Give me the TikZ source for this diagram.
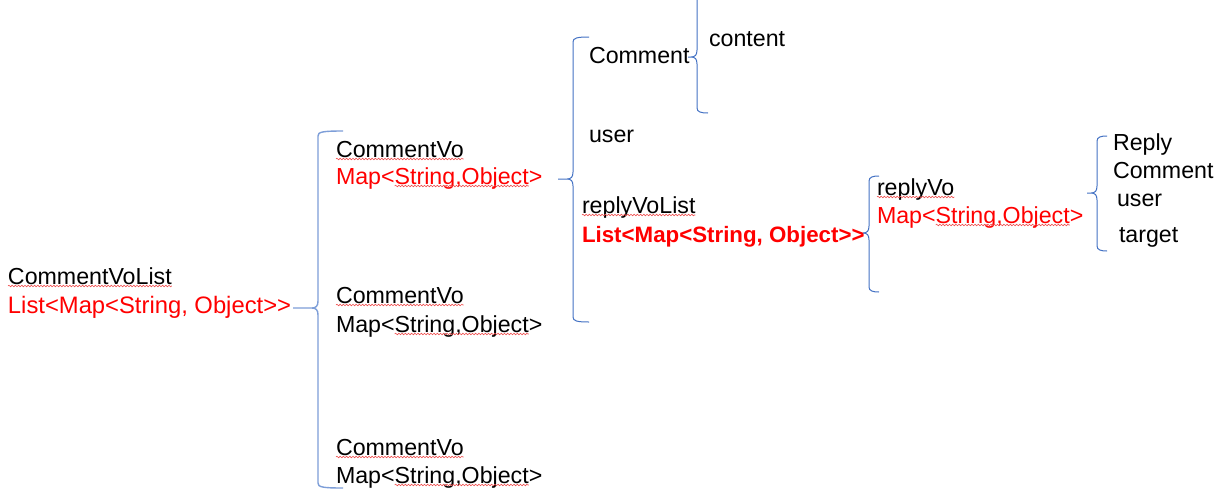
\documentclass[tikz,border=0pt]{standalone}
\usepackage{fontspec}
\setmainfont{Liberation Sans}
\usetikzlibrary{decorations.pathmorphing}
\definecolor{bracecol}{RGB}{68,114,196}
\definecolor{bracecolA}{RGB}{125,158,216}
\definecolor{txtred}{RGB}{255,0,0}
\definecolor{wavered}{RGB}{240,80,80}
\newcommand\drawbrace[7]{% style, x, top, tip, bottom, hook x, tip x
  \draw[#1] (#6,#3) .. controls ({#2+4},#3) and (#2,{#3+1}) .. (#2,{#3+5})
    -- (#2,{#4-7}) .. controls (#2,{#4-2}) and ({#2-2},#4) .. ({#2-6},#4)
    -- (#7,#4) -- ({#2-6},#4) .. controls ({#2-2},#4) and (#2,{#4+2}) .. (#2,{#4+7})
    -- (#2,{#5-5}) .. controls (#2,{#5-1}) and ({#2+4},#5) .. (#6,#5);}
\newcommand\wave[1]{\draw[spell] ([yshift=-2pt]#1.base west) -- ([yshift=-2pt]#1.base east);}
\begin{document}
\begin{tikzpicture}[x=1pt,y=-1pt,
  lbl/.style={anchor=base west,inner sep=0pt,outer sep=0pt,font=\fontsize{23.2}{27}\selectfont},
  redlbl/.style={lbl,text=txtred},
  widered/.style={redlbl,font=\fontsize{23.8}{27}\selectfont},
  boldred/.style={anchor=base west,inner sep=0pt,outer sep=0pt,text=txtred,font=\fontsize{22.3}{27}\selectfont\bfseries},
  spell/.style={draw=wavered,line width=0.6pt,decorate,decoration={snake,amplitude=0.8pt,segment length=3.2pt}},
  brc/.style={draw=bracecol,line width=1pt},
  brcA/.style={draw=bracecolA,line width=1.4pt}]
\useasboundingbox[fill=white] (0,0) rectangle (1223,501);
% left column
\node[lbl] (cvl) at (8,284) {CommentVoList};
\node[widered] (cvlt) at (8,313) {List<Map<String, Object>\kern0pt>};
% CommentVo items
\node[lbl] (cv1) at (336,157) {CommentVo};
\node[redlbl] (cv1a) at (336,184) {Map<};
\node[redlbl] (cv1b) at (cv1a.base east) {String,Object};
\node[redlbl] (cv1c) at (cv1b.base east) {>};
\node[lbl] (cv2) at (336,303) {CommentVo};
\node[lbl] (cv2a) at (336,332) {Map<};
\node[lbl] (cv2b) at (cv2a.base east) {String,Object};
\node[lbl] (cv2c) at (cv2b.base east) {>};
\node[lbl] (cv3) at (336,455) {CommentVo};
\node[lbl] (cv3a) at (336,483) {Map<};
\node[lbl] (cv3b) at (cv3a.base east) {String,Object};
\node[lbl] (cv3c) at (cv3b.base east) {>};
% fields of CommentVo
\node[lbl] (cmt) at (589,63) {Comment};
\node[lbl] (usr) at (589,142) {user};
\node[lbl] (rvl) at (582,213) {replyVoList};
\node[boldred] (rvlt) at (582,242) {List<Map<String, Object>\kern0pt>};
\node[lbl] (cnt) at (709,46) {content};
% replyVo
\node[lbl] (rv) at (877,195) {replyVo};
\node[redlbl] (rva) at (877,223) {Map<};
\node[redlbl] (rvb) at (rva.base east) {String,Object};
\node[redlbl] (rvc) at (rvb.base east) {>};
% fields of replyVo
\node[lbl] (rp) at (1113,150) {Reply};
\node[lbl] (rc) at (1113,178) {Comment};
\node[lbl] (ru) at (1117,206) {user};
\node[lbl] (rt) at (1119,242) {target};
% spell-check underlines
\wave{cvl}\wave{cv1}\wave{cv1b}\wave{cv2}\wave{cv2b}\wave{cv3}\wave{cv3b}
\wave{rvl}\wave{rv}\wave{rvb}
% braces
\drawbrace{brcA}{318}{131}{308}{488}{343}{293}
\drawbrace{brc}{573}{37}{179}{322}{589}{558}
\draw[brc] (697,0) -- (697,50) .. controls (697,55) and (695,57) .. (691,57) -- (688,57)
  -- (691,57) .. controls (695,57) and (697,59) .. (697,64)
  -- (697,108) .. controls (697,112) and (701,113) .. (708,113);
\drawbrace{brc}{869}{176}{233}{292}{879}{866}
\drawbrace{brc}{1097}{136}{193}{251}{1107}{1087}
\end{tikzpicture}
\end{document}
